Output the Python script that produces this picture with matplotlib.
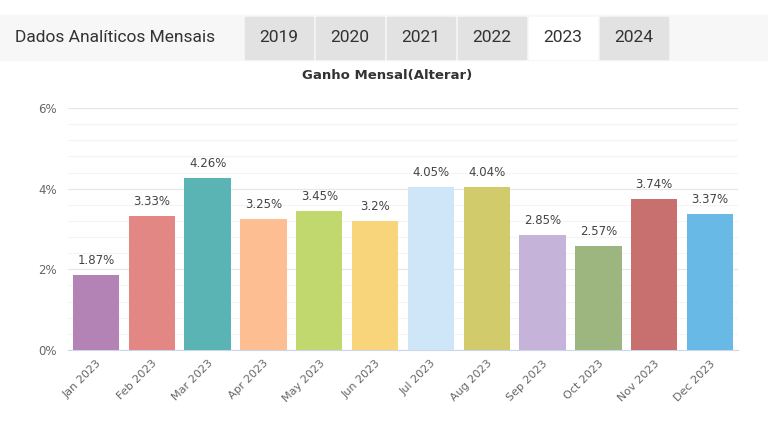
import numpy as np
import matplotlib.pyplot as plt
from matplotlib.patches import Rectangle

# Dados
meses = ['Jan 2023', 'Feb 2023', 'Mar 2023', 'Apr 2023', 'May 2023', 'Jun 2023',
         'Jul 2023', 'Aug 2023', 'Sep 2023', 'Oct 2023', 'Nov 2023', 'Dec 2023']
ganho = [1.87, 3.33, 4.26, 3.25, 3.45, 3.2, 4.05, 4.04, 2.85, 2.57, 3.74, 3.37]
rotulos = ['1.87%', '3.33%', '4.26%', '3.25%', '3.45%', '3.2%',
           '4.05%', '4.04%', '2.85%', '2.57%', '3.74%', '3.37%']
cores = ['#b383b5', '#e38785', '#5bb4b4', '#fdbf92', '#c0d86e', '#f8d57a',
         '#cfe6f9', '#d2cb6c', '#c6b3d9', '#9db67f', '#c87070', '#68b9e5']
anos = ['2019', '2020', '2021', '2022', '2023', '2024']
ano_ativo = '2023'

fig = plt.figure(figsize=(7.68, 4.32), dpi=100)
W, H = 768, 432

# Cabeçalho com abas
fig.patches.append(Rectangle((0, 1 - 60 / H), 1, 45 / H, transform=fig.transFigure,
                             color='#f7f7f7', zorder=0))
fig.text(15 / W, 1 - 38 / H, 'Dados Analíticos Mensais', fontsize=12.5,
         color='#333333', va='center', family='Roboto')
for i, ano in enumerate(anos):
    x0 = 245 + i * 71
    cor = '#ffffff' if ano == ano_ativo else '#e2e2e2'
    fig.patches.append(Rectangle((x0 / W, 1 - 59 / H), 68 / W, 42 / H,
                                 transform=fig.transFigure, color=cor, zorder=1))
    fig.text((x0 + 34) / W, 1 - 38 / H, ano, fontsize=12.5, color='#333333',
             ha='center', va='center', family='Roboto')

fig.text(387 / W, 1 - 75 / H, 'Ganho Mensal(Alterar)', fontsize=9.5,
         fontweight='bold', color='#333333', ha='center', va='center')

ax = fig.add_axes([68 / W, 1 - 350 / H, 670 / W, 242 / H])
x = np.arange(len(meses))
ax.bar(x, ganho, width=0.83, color=cores, zorder=3)
for xi, v, r in zip(x, ganho, rotulos):
    ax.text(xi, v + 0.2, r, ha='center', va='bottom', fontsize=8.5, color='#444444')

ax.set_xlim(-0.5, len(meses) - 0.5)
ax.set_ylim(0, 6)
ax.set_yticks([0, 2, 4, 6])
ax.set_yticklabels(['0%', '2%', '4%', '6%'])
ax.set_yticks(np.arange(0, 6.01, 0.4), minor=True)
ax.grid(axis='y', which='major', color='#e6e6e6', linewidth=0.8, zorder=0)
ax.grid(axis='y', which='minor', color='#f4f4f4', linewidth=0.8, zorder=0)
ax.tick_params(axis='y', which='both', length=0, labelsize=8.5, labelcolor='#666666', pad=8)
ax.set_xticks(x)
ax.set_xticklabels(meses, rotation=45, ha='right', rotation_mode='anchor',
                   fontsize=8, color='#666666')
ax.tick_params(axis='x', length=0, pad=6)
for s in ['top', 'right', 'left']:
    ax.spines[s].set_visible(False)
ax.spines['bottom'].set_color('#ccd6eb')

fig.savefig('out.png', dpi=100)
